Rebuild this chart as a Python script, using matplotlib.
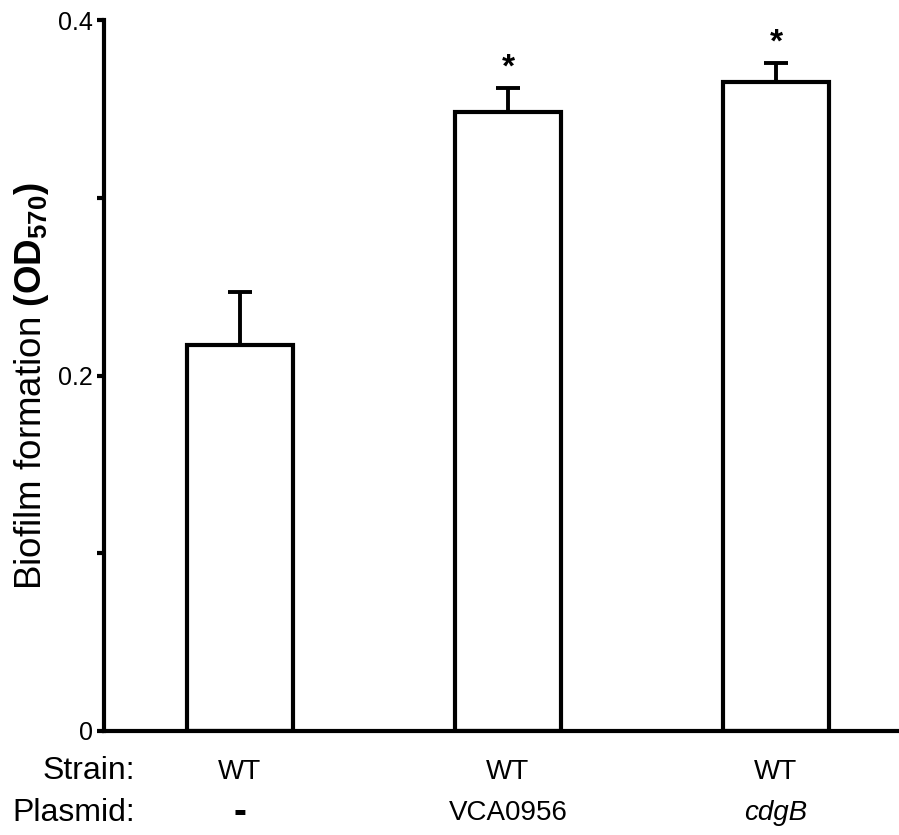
import matplotlib
matplotlib.use("Agg")
import matplotlib.pyplot as plt
import numpy as np

plt.rcParams['font.family'] = ['Liberation Sans', 'DejaVu Sans']
plt.rcParams['mathtext.fontset'] = 'custom'
plt.rcParams['mathtext.rm'] = 'Liberation Sans'
plt.rcParams['mathtext.bf'] = 'Liberation Sans:bold'
plt.rcParams['mathtext.it'] = 'Liberation Sans:italic'

# data
strains = ["WT", "WT", "WT"]
plasmids = ["-", "VCA0956", "cdgB"]
values = [0.217, 0.348, 0.365]
errors = [0.030, 0.014, 0.011]
significant = [False, True, True]

fig = plt.figure(figsize=(8.99, 8.35), dpi=100)
ax = fig.add_axes([104/899, 104/835, 795/899, 711/835])

x = np.arange(len(values))
ax.bar(x, values, width=0.395, color='white', edgecolor='black', linewidth=3, zorder=2)
ax.errorbar(x, values, yerr=[np.zeros(len(errors)), errors], fmt='none',
            ecolor='black', elinewidth=2.8, capsize=8.5, capthick=2.8, zorder=1)

for xi, v, e, s in zip(x, values, errors, significant):
    if s:
        ax.text(xi, v + e + 0.011, "*", ha='center', va='center',
                fontsize=24, fontweight='bold')

ax.set_xlim(-0.507, 2.459)
ax.set_ylim(0, 0.4)
ax.set_yticks([0, 0.1, 0.2, 0.3, 0.4])
ax.set_yticklabels(["0", "", "0.2", "", "0.4"], fontsize=18)
ax.set_xticks([])
ax.tick_params(axis='y', direction='out', length=5, width=3, pad=3)
for sp in ['top', 'right']:
    ax.spines[sp].set_visible(False)
for sp in ['left', 'bottom']:
    ax.spines[sp].set_linewidth(3)

fig.text(32/899, 1 - 386/835, r'Biofilm formation $\mathbf{(OD_{570})}$',
         fontsize=26.5, rotation=90, ha='center', va='center')

# row labels under the bars
trans = ax.get_xaxis_transform()
fig.text(135/899, 1 - 771/835, "Strain:", fontsize=23, ha='right', va='center')
fig.text(135/899, 1 - 813/835, "Plasmid:", fontsize=23, ha='right', va='center')
for xi, st, pl in zip(x, strains, plasmids):
    ax.text(xi, -0.057, st, transform=trans, ha='center', va='center', fontsize=20)
    if pl == "-":
        ax.text(xi, -0.1153, "-", transform=trans, ha='center', va='center',
                fontsize=28, fontweight='bold')
    elif pl == "cdgB":
        ax.text(xi, -0.1153, pl, transform=trans, ha='center', va='center',
                fontsize=20, style='italic')
    else:
        ax.text(xi, -0.1153, pl, transform=trans, ha='center', va='center', fontsize=20)

fig.savefig("out.png", dpi=100)
